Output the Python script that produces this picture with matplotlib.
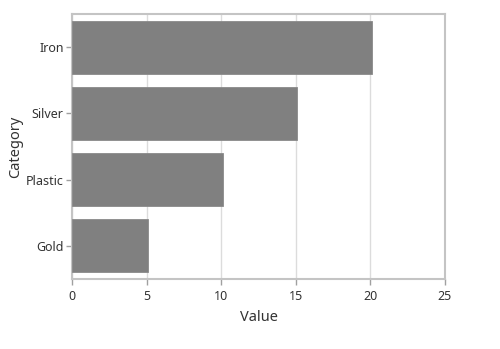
import matplotlib
matplotlib.use("Agg")
import matplotlib.pyplot as plt

categories = ["Gold", "Plastic", "Silver", "Iron"]
values = [5.1, 10.1, 15.1, 20.1]
x_ticks = [0, 5, 10, 15, 20, 25]

plt.rcParams['font.family'] = ['Noto Sans', 'DejaVu Sans']

fig = plt.figure(figsize=(5.0, 3.49), dpi=100)
W, H = 500, 349
ax = fig.add_axes([72 / W, 1 - 279 / H, (445 - 72) / W, (279 - 14) / H])

ax.barh(range(len(categories)), values, height=0.8, color="#808080",
        edgecolor="#8a8a8a", linewidth=0.6, zorder=3)
ax.set_xlim(0, 25)
ax.set_ylim(-0.5, len(categories) - 0.5)
ax.set_xticks(x_ticks)
ax.set_xticklabels([str(t) for t in x_ticks])
ax.set_yticks(range(len(categories)))
ax.set_yticklabels(categories)

ax.grid(axis="x", color="#dcdcdc", linewidth=1.0, zorder=0)
ax.set_axisbelow(True)
for s in ax.spines.values():
    s.set_color("#c4c4c4")
    s.set_linewidth(1.5)

ax.tick_params(axis="both", colors="#a0a0a0", length=4, width=1,
               labelcolor="#333333", labelsize=9, pad=2)
ax.tick_params(axis="x", pad=4)
ax.set_xlabel("Value", fontsize=10.5, color="#333333", labelpad=5)
ax.set_ylabel("Category", fontsize=10.5, color="#333333", labelpad=2)

fig.savefig("out.png", dpi=100)
